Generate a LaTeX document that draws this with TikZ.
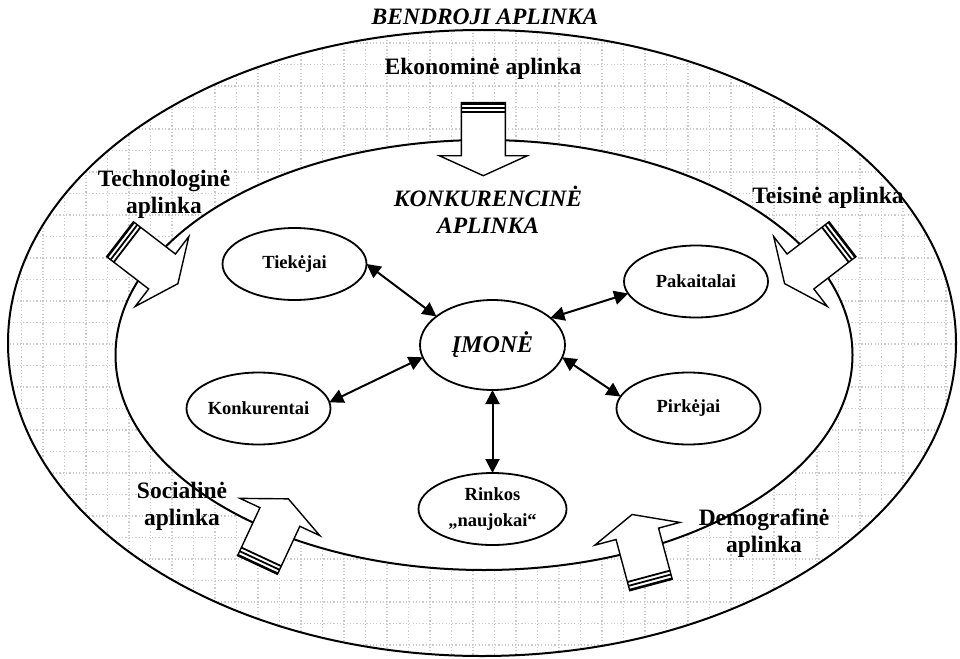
\documentclass[tikz,border=0pt]{standalone}
\usepackage{fontspec}
\setmainfont{Liberation Serif}
\usetikzlibrary{shapes.geometric,arrows.meta}

\tikzset{
  lbl/.style={font=\bfseries\fontsize{23.5}{27}\selectfont, align=center, inner sep=0pt},
  ttl/.style={font=\bfseries\itshape\fontsize{23.5}{27}\selectfont, align=center, inner sep=0pt},
  actor/.style={ellipse, draw, line width=1.8pt, fill=white, minimum width=144pt, minimum height=72pt,
    inner sep=0pt, outer sep=0pt, align=center, font=\bfseries\fontsize{18.5}{26}\selectfont},
  link/.style={line width=2pt, {Triangle[length=14pt,width=14pt]}-{Triangle[length=14pt,width=14pt]}},
  gridline/.style={black!20, line width=1.2pt, dash pattern=on 1.2pt off 2.1pt},
  fatbody/.style={draw, fill=white, line width=1.4pt, line join=miter},
  band/.style={line width=1.8pt},
  ring/.style={ellipse, draw, line width=2pt, inner sep=0pt, outer sep=0pt},
}

% block arrow: #1 = middle of the striped tail, #2 = direction
\newcommand\fatarrow[2]{%
  \begin{scope}[shift={#1}, rotate=#2]
    \draw[fatbody] (0,-22) -- (53,-22) -- (53,-44) -- (73,0) -- (53,44) -- (53,22) -- (0,22) -- cycle;
    \foreach \s in {1,5,9} \draw[band] (\s,-22) -- (\s,22);
  \end{scope}}

\begin{document}
\begin{tikzpicture}[x=1pt,y=-1pt]
  \useasboundingbox (0,0) rectangle (960,658);

  % dotted grid of the general environment
  \begin{scope}
    \clip (482,343) ellipse [x radius=474pt, y radius=313pt];
    \foreach \k in {0,...,44} \draw[gridline] (\k*21.5,0) -- (\k*21.5,658);
    \foreach \k in {0,...,30} \draw[gridline] (0,\k*21.5) -- (960,\k*21.5);
  \end{scope}

  \node[ring, minimum width=948pt, minimum height=626pt] (outer) at (482,343) {};
  \node[ring, fill=white, minimum width=737pt, minimum height=430pt] (inner) at (484,355) {};

  % forces of the general environment
  \fatarrow{(483.3,102.7)}{-90}
  \fatarrow{(120,239.2)}{-37.5}
  \fatarrow{(842.5,239.2)}{-142.5}
  \fatarrow{(257.5,565)}{65}
  \fatarrow{(651,585)}{105}

  \node[ttl] (general) at (485,17) {BENDROJI APLINKA};
  \node[lbl] (econ) at (483,69) {Ekonominė aplinka};
  \node[lbl] (tech) at (164,194) {Technologinė\\aplinka};
  \node[lbl] (law) at (828,198) {Teisinė aplinka};
  \node[ttl] (comp) at (488,210) {KONKURENCINĖ\\APLINKA};
  \node[lbl] (soc) at (182,506) {Socialinė\\aplinka};
  \node[lbl] (demo) at (764,533) {Demografinė\\aplinka};

  % competitive environment
  \node[actor] (tiekejai) at (294.5,264) {Tiekėjai};
  \node[actor] (konk) at (258.5,408.5) {Konkurentai};
  \node[actor, minimum width=145pt, minimum height=90pt,
        font=\bfseries\itshape\fontsize{24}{28}\selectfont] (imone) at (492.5,345) {ĮMONĖ};
  \node[actor] (pakait) at (696,281.5) {Pakaitalai};
  \node[actor] (pirk) at (688.5,408.5) {Pirkėjai};
  \node[actor, minimum width=148pt] (rinkos) at (492.5,509) {Rinkos\\„naujokai“};

  \draw[link] (tiekejai.east) -- (imone.153);
  \draw[link] (konk.5) -- (imone.190);
  \draw[link] (pakait.190) -- (imone.25);
  \draw[link] (pirk.170) -- (imone.-10);
  \draw[link] (imone.south) -- (rinkos.north);
\end{tikzpicture}
\end{document}
